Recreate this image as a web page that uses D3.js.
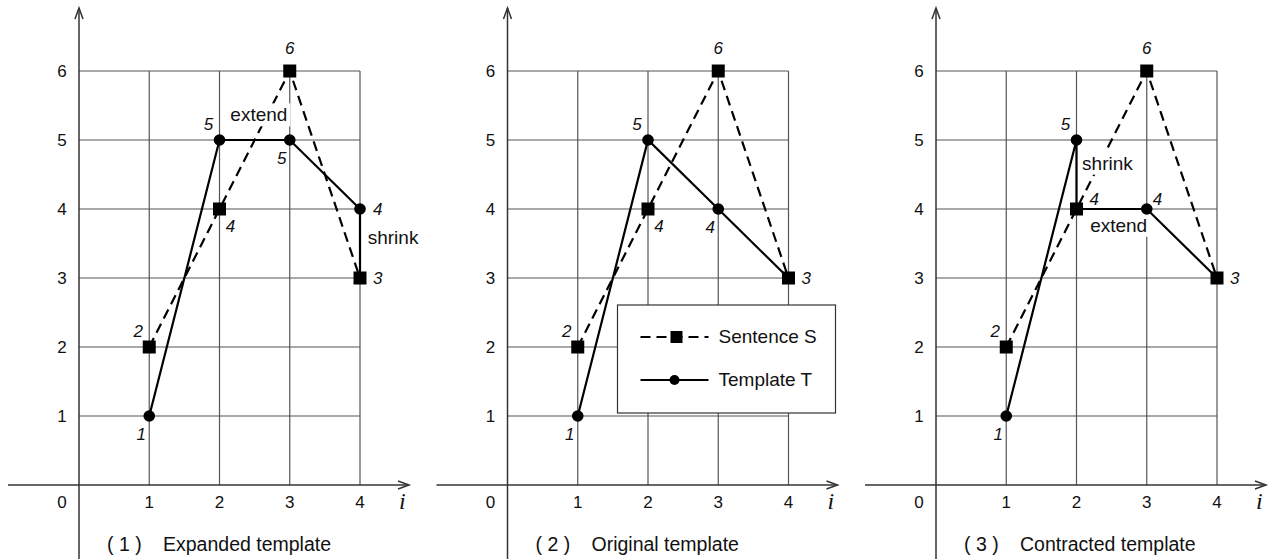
<!DOCTYPE html>
<html>
<head>
<meta charset="utf-8">
<script src="https://d3js.org/d3.v7.min.js"></script>
<style>
  body { margin: 0; background: #fff; }
  svg { display: block; font-family: "Liberation Sans", Arial, sans-serif; }
  .grid { stroke: #555; stroke-width: 1.2; fill: none; }
  .axis { stroke: #333; stroke-width: 1.5; fill: none; }
  .tick { font-size: 17px; fill: #111; }
  .plabel { font-size: 17px; font-style: italic; fill: #111; }
  .annot { font-size: 19px; fill: #111; }
  .caption { font-size: 19.5px; fill: #111; }
  .seriesS { stroke: #000; stroke-width: 2.2; stroke-dasharray: 10 6; fill: none; }
  .seriesT { stroke: #000; stroke-width: 2.2; fill: none; }
</style>
</head>
<body>
<div id="chart"></div>
<script>
// values
const iValues = [1, 2, 3, 4];
const yTicks = [1, 2, 3, 4, 5, 6];
const sentenceS = [2, 4, 6, 3];
// label placement of the S points, per panel
const sentenceLabelPos = [
  ["nw", "se", "n", "e"],
  ["nw", "se", "n", "e"],
  ["nw", "ne", "n", "e"]
];

// [i, value, label placement]
const templateExpanded = [[1, 1, "sw"], [2, 5, "nw"], [3, 5, "sw"], [4, 4, "e"]];
const templateOriginal = [[1, 1, "sw"], [2, 5, "nw"], [3, 4, "sw"], [4, 3, null]];
const templateContracted = [[1, 1, "sw"], [2, 5, "nw"], [2, 4, null], [3, 4, "nne"], [4, 3, null]];

const captions = ["Expanded template", "Original template", "Contracted template"];
const templates = [templateExpanded, templateOriginal, templateContracted];

// annotation words [text, i, value, anchor]
const annotExpanded = [["extend", 2.56, 5.27, "middle"], ["shrink", 4.11, 3.5, "start"]];
const annotOriginal = [];
const annotContracted = [["shrink", 2.08, 4.57, "start"], ["extend", 2.6, 3.67, "middle"]];
const annotations = [annotExpanded, annotOriginal, annotContracted];

// extra solid segments (template end pulled to sentence)
const shrinkExpanded = [[[4, 4], [4, 3]]];
const shrinks = [shrinkExpanded, [], []];

const legendItems = ["Sentence S", "Template T"];

const W = 1271, H = 559;
const svg = d3.select("#chart").append("svg").attr("width", W).attr("height", H);

// label offsets (px) by placement keyword
const offs = {
  n: [0, -17, "middle"], nw: [-11, -10, "middle"], se: [11, 23, "middle"],
  sw: [-8, 24, "middle"], e: [13, 6, "start"], ne: [13, -4, "start"], nne: [6, -4, "start"]
};

const panelX = [79, 507.5, 936];
const x = d3.scaleLinear().domain([0, 4]).range([0, 281]);
const y = d3.scaleLinear().domain([0, 6]).range([485, 71]);

function square(g, cx, cy, s) {
  g.append("rect").attr("x", cx - s / 2).attr("y", cy - s / 2)
    .attr("width", s).attr("height", s).attr("fill", "#000");
}

templates.forEach(function(tpl, p) {
  const g = svg.append("g").attr("transform", "translate(" + panelX[p] + ",0)");

  // grid
  g.selectAll(".hg").data(yTicks).enter().append("line").attr("class", "grid")
    .attr("x1", x(0)).attr("x2", x(4)).attr("y1", d => y(d)).attr("y2", d => y(d));
  g.selectAll(".vg").data(iValues).enter().append("line").attr("class", "grid")
    .attr("x1", d => x(d)).attr("x2", d => x(d)).attr("y1", y(0)).attr("y2", y(6));

  // axes with open arrow heads
  g.append("line").attr("class", "axis").attr("x1", x(0)).attr("x2", x(0)).attr("y1", H).attr("y2", 8);
  g.append("path").attr("class", "axis").attr("d", "M" + (x(0) - 4) + ",19L" + x(0) + ",8L" + (x(0) + 4) + ",19");
  g.append("line").attr("class", "axis").attr("x1", -71).attr("x2", 330).attr("y1", y(0)).attr("y2", y(0));
  g.append("path").attr("class", "axis").attr("d", "M319," + (y(0) - 4) + "L330," + y(0) + "L319," + (y(0) + 4));

  // tick labels
  g.selectAll(".yt").data(yTicks).enter().append("text").attr("class", "tick")
    .attr("x", -17).attr("y", d => y(d) + 6).attr("text-anchor", "middle").text(d => d);
  g.selectAll(".xt").data(iValues).enter().append("text").attr("class", "tick")
    .attr("x", d => x(d)).attr("y", y(0) + 23).attr("text-anchor", "middle").text(d => d);
  g.append("text").attr("class", "tick").attr("x", -17).attr("y", y(0) + 23)
    .attr("text-anchor", "middle").text("0");
  g.append("text").attr("x", 320).attr("y", y(0) + 24)
    .attr("font-family", "'Liberation Serif', 'DejaVu Serif', serif").attr("font-style", "italic")
    .attr("font-size", 24).attr("fill", "#111").text("i");

  // caption
  g.append("text").attr("class", "caption").attr("x", 28).attr("y", 551)
    .attr("xml:space", "preserve").text("( " + (p + 1) + " )");
  g.append("text").attr("class", "caption").attr("x", 84).attr("y", 551).text(captions[p]);

  // lines
  const line = d3.line().x(d => x(d[0])).y(d => y(d[1]));
  const sPts = sentenceS.map((v, k) => [iValues[k], v]);
  g.append("path").attr("class", "seriesS").attr("d", line(sPts));
  g.append("path").attr("class", "seriesT").attr("d", line(tpl));
  shrinks[p].forEach(function(seg) {
    g.append("path").attr("class", "seriesT").attr("stroke-width", 2.6).attr("d", line(seg));
  });

  // annotations with white knock-out
  annotations[p].forEach(function(a) {
    const t = g.append("text").attr("class", "annot").attr("x", x(a[1])).attr("y", y(a[2]))
      .attr("text-anchor", a[3]).text(a[0]);
    const b = t.node().getBBox();
    g.insert("rect", function() { return t.node(); })
      .attr("x", b.x - 2).attr("y", b.y - 1).attr("width", b.width + 5).attr("height", b.height + 2)
      .attr("fill", "#fff");
  });

  // markers
  g.selectAll(".tm").data(tpl).enter().append("circle")
    .attr("cx", d => x(d[0])).attr("cy", d => y(d[1])).attr("r", 5.8).attr("fill", "#000");
  sPts.forEach(d => square(g, x(d[0]), y(d[1]), 13));

  // point labels
  function lab(px, py, pos, txt) {
    if (!pos) return;
    const o = offs[pos];
    g.append("text").attr("class", "plabel").attr("x", px + o[0]).attr("y", py + o[1])
      .attr("text-anchor", o[2]).text(txt);
  }
  sPts.forEach((d, k) => lab(x(d[0]), y(d[1]), sentenceLabelPos[p][k], d[1]));
  tpl.forEach(d => lab(x(d[0]), y(d[1]), d[2], d[1]));

  // legend on the middle panel
  if (p === 1) {
    const lg = g.append("g").attr("transform", "translate(110,305)");
    lg.append("rect").attr("width", 218).attr("height", 108)
      .attr("fill", "#fff").attr("stroke", "#333").attr("stroke-width", 1.2);
    lg.append("line").attr("class", "seriesS").attr("stroke-dasharray", "10 5")
      .attr("x1", 23).attr("x2", 91).attr("y1", 32).attr("y2", 32);
    square(lg, 59, 32, 12);
    lg.append("line").attr("class", "seriesT").attr("x1", 23).attr("x2", 91).attr("y1", 75).attr("y2", 75);
    lg.append("circle").attr("cx", 57).attr("cy", 75).attr("r", 5).attr("fill", "#000");
    lg.selectAll(".lt").data(legendItems).enter().append("text").attr("class", "annot")
      .attr("font-size", 17).attr("x", 101).attr("y", (d, k) => 38 + k * 43).text(d => d);
  }
});
</script>
</body>
</html>
